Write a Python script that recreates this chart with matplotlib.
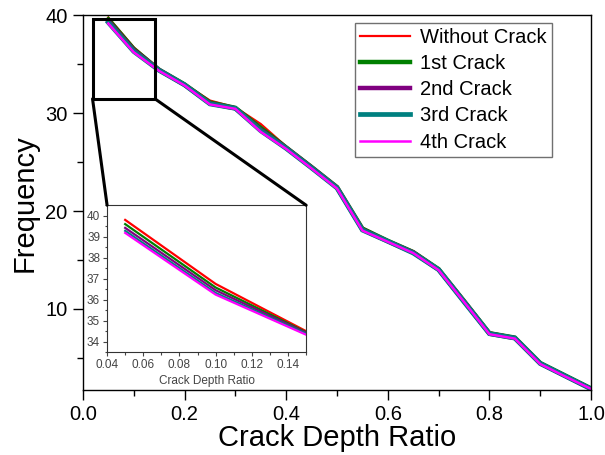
import matplotlib
matplotlib.use('Agg')
import matplotlib.pyplot as plt
from matplotlib.patches import Rectangle, ConnectionPatch
from matplotlib.ticker import MultipleLocator

plt.rcParams['font.family'] = ['Liberation Sans', 'DejaVu Sans']

# crack depth ratio
ratio = [0.05, 0.10, 0.15, 0.20, 0.25, 0.30, 0.35, 0.40, 0.45, 0.50,
         0.55, 0.60, 0.65, 0.70, 0.75, 0.80, 0.85, 0.90, 0.95, 1.00]

# frequency for each case
f_none = [39.8, 36.75, 34.5, 33.0, 31.3, 30.6, 28.9, 26.6, 24.6, 22.5,
          18.3, 17.0, 15.9, 14.1, 10.9, 7.6, 7.1, 4.5, 3.2, 1.9]
f_1st = [39.6, 36.58, 34.45, 32.95, 31.1, 30.55, 28.5, 26.5, 24.5, 22.45,
         18.2, 16.95, 15.8, 14.05, 10.8, 7.5, 7.05, 4.45, 3.15, 1.85]
f_2nd = [39.42, 36.45, 34.42, 32.9, 31.0, 30.5, 28.3, 26.45, 24.45, 22.4,
         18.1, 16.9, 15.75, 14.0, 10.75, 7.45, 7.0, 4.4, 3.1, 1.8]
f_3rd = [39.28, 36.32, 34.38, 32.9, 30.95, 30.5, 28.2, 26.4, 24.4, 22.35,
         18.05, 16.9, 15.7, 14.0, 10.7, 7.45, 7.0, 4.4, 3.1, 1.8]
f_4th = [39.18, 36.24, 34.33, 32.85, 30.9, 30.45, 28.1, 26.35, 24.35, 22.3,
         18.0, 16.85, 15.7, 13.95, 10.7, 7.4, 6.95, 4.35, 3.05, 1.8]

labels = ['Without Crack', '1st Crack', '2nd Crack', '3rd Crack', '4th Crack']
series = [f_none, f_1st, f_2nd, f_3rd, f_4th]
colors = ['#ff0000', '#008000', '#800080', '#008080', '#ff00ff']
widths = [1.6, 3.2, 3.2, 3.4, 1.8]

fig = plt.figure(figsize=(6.05, 4.55), dpi=100)
ax = fig.add_axes([0.137, 0.143, 0.840, 0.823])

for s, c, w, lab in zip(series, colors, widths, labels):
    ax.plot(ratio, s, color=c, lw=w, label=lab, solid_joinstyle='miter')

ax.set_xlim(0, 1.0)
ax.set_ylim(1.7, 40)
ax.xaxis.set_major_locator(MultipleLocator(0.2))
ax.xaxis.set_minor_locator(MultipleLocator(0.1))
ax.set_yticks([10, 20, 30, 40])
ax.yaxis.set_minor_locator(MultipleLocator(5))
ax.tick_params(which='major', direction='out', length=7, width=1, labelsize=14.5, pad=4)
ax.tick_params(which='minor', direction='out', length=4, width=1)
ax.set_xlabel('Crack Depth Ratio', fontsize=21, labelpad=0)
ax.set_ylabel('Frequency', fontsize=21, labelpad=5)
for sp in ax.spines.values():
    sp.set_linewidth(1)

leg = ax.legend(loc='upper right', bbox_to_anchor=(0.923, 0.981), fontsize=14.5,
                fancybox=False, framealpha=1, edgecolor='#707070',
                handlelength=2.5, handletextpad=0.5, labelspacing=0.36,
                borderpad=0.25, borderaxespad=0)
leg.get_frame().set_linewidth(1)

# zoom box
rect = Rectangle((0.019, 31.47), 0.123, 8.2, fill=False, edgecolor='black', lw=2.2, zorder=5)
ax.add_patch(rect)

# inset
axin = fig.add_axes([0.177, 0.226, 0.329, 0.323])
for s, c in zip(series, colors):
    axin.plot(ratio[:3], s[:3], color=c, lw=1.6)
axin.set_xlim(0.04, 0.15)
axin.set_ylim(33.5, 40.5)
axin.xaxis.set_major_locator(MultipleLocator(0.02))
axin.xaxis.set_minor_locator(MultipleLocator(0.01))
axin.yaxis.set_major_locator(MultipleLocator(1))
axin.yaxis.set_minor_locator(MultipleLocator(0.5))
axin.tick_params(which='major', direction='out', length=3, width=0.8,
                 labelsize=8.5, colors='#444444', pad=2)
axin.tick_params(which='minor', direction='out', length=1.8, width=0.8, colors='#444444')
axin.set_xlabel('Crack Depth Ratio', fontsize=8.5, color='#444444', labelpad=3)
for sp in axin.spines.values():
    sp.set_linewidth(0.8)
    sp.set_color('#333333')

for xa, xb in [(0.019, 0.0), (0.142, 1.0)]:
    con = ConnectionPatch(xyA=(xa, 31.47), coordsA=ax.transData,
                          xyB=(xb, 1.0), coordsB=axin.transAxes,
                          color='black', lw=2.2)
    fig.add_artist(con)

fig.savefig('out.png', dpi=100)
